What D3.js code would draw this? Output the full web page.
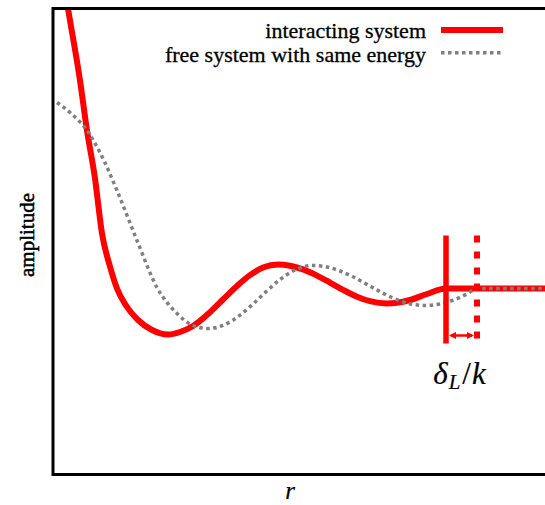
<!DOCTYPE html>
<html>
<head>
<meta charset="utf-8">
<script src="https://cdn.jsdelivr.net/npm/d3@7"></script>
<style>
  html, body { margin: 0; padding: 0; background: #fff; }
</style>
</head>
<body>
<svg id="chart" width="545" height="505"></svg>
<script>
// Radial wave function of the interacting system vs. the free one
const rInteracting = [0.21, 0.30, 0.54, 0.68, 0.84, 0.98, 1.14, 1.28, 1.46, 1.70, 1.98, 2.30, 2.54, 2.80, 3.14, 3.40, 3.68, 3.94, 4.20, 4.50, 4.74, 5.00, 5.28, 5.54, 5.80, 6.08, 6.34, 6.68, 6.88, 7.14, 7.48, 7.86, 10.2];
const ampInteracting = [3.08, 2.80, 2.08, 1.58, 1.10, 0.55, 0.22, 0.00, -0.17, -0.315, -0.415, -0.46, -0.435, -0.375, -0.237, -0.11, 0.026, 0.134, 0.21, 0.24, 0.228, 0.191, 0.129, 0.059, -0.013, -0.082, -0.127, -0.15, -0.143, -0.115, -0.055, 0.00, 0.00];

const rFree = [0.08, 0.34, 0.68, 0.94, 1.28, 1.68, 2.08, 2.48, 2.80, 3.10, 3.40, 3.74, 4.00, 4.28, 4.54, 4.80, 5.20, 5.48, 5.74, 6.00, 6.28, 6.54, 6.80, 7.08, 7.44, 7.74, 8.04, 8.28, 8.48, 10.2];
const ampFree = [1.86, 1.76, 1.58, 1.36, 0.98, 0.48, 0.01, -0.25, -0.37, -0.40, -0.369, -0.267, -0.155, -0.024, 0.089, 0.175, 0.23, 0.215, 0.175, 0.117, 0.041, -0.031, -0.095, -0.145, -0.17, -0.155, -0.11, -0.055, 0.00, 0.00];

// Onset of the asymptotic region for each system; their gap is the phase shift
const onsetR = [7.86, 8.48];
const markerSpan = [0.53, -0.55];
const arrowAmp = -0.47;

const legendLabels = ["interacting system", "free system with same energy"];
const xLabel = "r";
const yLabel = "amplitude";

const SERIF = '"Liberation Serif", serif';
const RED = "#ff0000";
const GREY = "#808080";

const svg = d3.select("#chart");

const x = d3.scaleLinear().domain([0, 10]).range([53, 553]);
const y = d3.scaleLinear().domain([-1.86, 2.80]).range([474.5, 8.5]);

svg.append("defs").append("clipPath").attr("id", "plot-clip")
  .append("rect")
  .attr("x", x(0)).attr("y", y(2.80))
  .attr("width", x(10) - x(0)).attr("height", y(-1.86) - y(2.80));

const plot = svg.append("g").attr("clip-path", "url(#plot-clip)");

const line = d3.line()
  .x(d => x(d[0]))
  .y(d => y(d[1]))
  .curve(d3.curveMonotoneX);

const freeData = rFree.map((r, i) => [r, ampFree[i]]);
const interactingData = rInteracting.map((r, i) => [r, ampInteracting[i]]);

plot.append("path")
  .datum(interactingData)
  .attr("d", line)
  .attr("fill", "none")
  .attr("stroke", RED)
  .attr("stroke-width", 6)
  .attr("stroke-linejoin", "round");

plot.append("path")
  .datum(freeData)
  .attr("d", line)
  .attr("fill", "none")
  .attr("stroke", GREY)
  .attr("stroke-width", 3.5)
  .attr("stroke-dasharray", "3.5,3.5");

// Vertical markers at the onset of each asymptote
plot.append("line")
  .attr("x1", x(onsetR[0])).attr("x2", x(onsetR[0]))
  .attr("y1", y(markerSpan[0])).attr("y2", y(markerSpan[1]))
  .attr("stroke", RED).attr("stroke-width", 5.5);

plot.append("line")
  .attr("x1", x(onsetR[1])).attr("x2", x(onsetR[1]))
  .attr("y1", y(markerSpan[0])).attr("y2", y(markerSpan[1]))
  .attr("stroke", RED).attr("stroke-width", 6)
  .attr("stroke-dasharray", "7,9");

// Double-headed arrow spanning the shift
const ax0 = x(onsetR[0]) + 3, ax1 = x(onsetR[1]) - 3, ay = y(arrowAmp);
const head = 7, half = 3.5;
plot.append("line")
  .attr("x1", ax0 + 2).attr("x2", ax1 - 2)
  .attr("y1", ay).attr("y2", ay)
  .attr("stroke", RED).attr("stroke-width", 2.5);
plot.append("path")
  .attr("d", `M${ax0},${ay} L${ax0 + head},${ay - half} L${ax0 + head},${ay + half} Z`)
  .attr("fill", RED);
plot.append("path")
  .attr("d", `M${ax1},${ay} L${ax1 - head},${ay - half} L${ax1 - head},${ay + half} Z`)
  .attr("fill", RED);

// Text is drawn with a hairline outline for a slightly heavier weight
function serifText(sel, size) {
  return sel
    .style("font-family", SERIF)
    .style("font-size", size + "px")
    .attr("fill", "#000")
    .attr("stroke", "#000")
    .attr("stroke-width", 0.3);
}

// Phase-shift label
const shiftLabel = serifText(svg.append("text"), 31)
  .attr("x", (x(onsetR[0]) + x(onsetR[1])) / 2 - 2)
  .attr("y", 384)
  .attr("text-anchor", "middle")
  .attr("stroke-width", 0.2);
shiftLabel.append("tspan").style("font-style", "italic").text("δ");
shiftLabel.append("tspan").style("font-style", "italic").style("font-size", "21px").attr("dy", 5).attr("dx", 1).text("L");
shiftLabel.append("tspan").attr("dy", -5).attr("dx", 2).text("/");
shiftLabel.append("tspan").style("font-style", "italic").attr("dx", 1).text("k");

// Frame
svg.append("rect")
  .attr("x", x(0)).attr("y", y(2.80))
  .attr("width", x(10) - x(0)).attr("height", y(-1.86) - y(2.80))
  .attr("fill", "none")
  .attr("stroke", "#000")
  .attr("stroke-width", 3);

// Legend
const legend = svg.append("g");
const legendRows = [
  { label: legendLabels[0], color: RED, width: 6, dash: null, yText: 38, yLine: 30 },
  { label: legendLabels[1], color: GREY, width: 3.5, dash: "3.5,3.5", yText: 62, yLine: 52.7 }
];
legendRows.forEach(row => {
  serifText(legend.append("text"), 22)
    .attr("x", 426).attr("y", row.yText)
    .attr("text-anchor", "end")
    .text(row.label);
  legend.append("line")
    .attr("x1", 441).attr("x2", 503)
    .attr("y1", row.yLine).attr("y2", row.yLine)
    .attr("stroke", row.color)
    .attr("stroke-width", row.width)
    .attr("stroke-dasharray", row.dash);
});

// Axis titles
serifText(svg.append("text"), 25)
  .attr("x", 290).attr("y", 499)
  .attr("text-anchor", "middle")
  .attr("stroke-width", 0.2)
  .style("font-style", "italic")
  .text(xLabel);

serifText(svg.append("text"), 21)
  .attr("transform", "translate(34,235) rotate(-90)")
  .attr("text-anchor", "middle")
  .attr("stroke-width", 0.5)
  .text(yLabel);
</script>
</body>
</html>
